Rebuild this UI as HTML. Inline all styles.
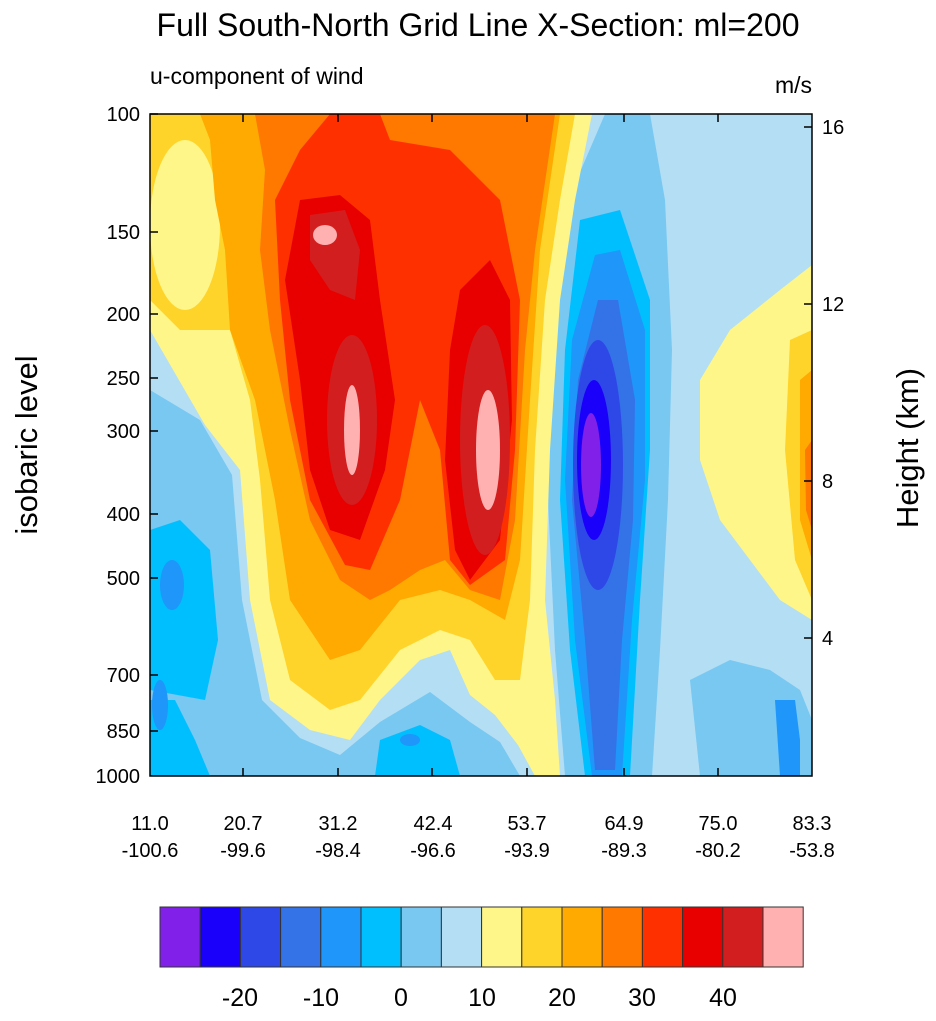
<!DOCTYPE html>
<html><head><style>
body{margin:0;background:#fff;}
svg text{font-family:"Liberation Sans",sans-serif;fill:#000;}
</style></head><body>
<svg width="936" height="1016" viewBox="0 0 936 1016" xmlns="http://www.w3.org/2000/svg">
<defs><clipPath id="c"><rect x="150" y="114" width="662" height="662"/></clipPath></defs>
<text x="478" y="36" font-size="32" text-anchor="middle">Full South-North Grid Line X-Section: ml=200</text>
<text x="150" y="84" font-size="23">u-component of wind</text>
<text x="812" y="93" font-size="23" text-anchor="end">m/s</text>
<g clip-path="url(#c)">
<rect x="150" y="114" width="662" height="662" fill="#b4def4"/>
<path d="M605,114 L650,114 L665,200 L672,350 L668,500 L660,650 L652,776 L565,776 L555,650 L548,500 L553,350 L568,200Z" fill="#78c8f2"/>
<path d="M690,680 L730,660 L770,670 L800,690 L812,720 L812,776 L700,776Z" fill="#78c8f2"/>
<path d="M775,700 L795,700 L800,740 L800,776 L780,776Z" fill="#1e96fa"/>
<path d="M150,114 L592,114 L575,200 L560,300 L550,450 L545,600 L555,700 L560,776 L535,776 L518,745 L495,715 L470,695 L450,650 L420,660 L380,700 L350,740 L310,730 L270,700 L250,600 L240,470 L205,425 L150,330Z" fill="#fff68a"/>
<path d="M700,380 L730,330 L780,290 L812,265 L812,620 L780,600 L750,560 L720,520 L700,460Z" fill="#fff68a"/>
<path d="M790,340 L812,330 L812,600 L795,560 L785,450Z" fill="#ffd42a"/>
<path d="M800,380 L812,370 L812,560 L800,520Z" fill="#ffaa00"/>
<path d="M805,450 L812,440 L812,530 L806,510Z" fill="#ff7800"/>
<path d="M150,114 L575,114 L560,200 L545,300 L535,450 L530,600 L520,680 L495,680 L470,640 L440,630 L400,650 L360,700 L330,710 L290,680 L270,600 L260,480 L250,400 L230,330 L180,330 L150,300Z" fill="#ffd42a"/>
<ellipse cx="185" cy="225" rx="35" ry="85" fill="#fff68a"/>
<path d="M200,114 L560,114 L540,250 L530,400 L520,560 L505,620 L470,600 L440,590 L400,600 L360,650 L330,660 L290,600 L275,500 L255,400 L230,330 L225,250 L215,200 L210,140Z" fill="#ffaa00"/>
<path d="M255,114 L555,114 L535,250 L525,350 L515,520 L500,600 L470,590 L445,560 L420,570 L390,590 L370,600 L340,580 L310,520 L290,430 L270,330 L260,250 L265,170Z" fill="#ff7800"/>
<path d="M330,114 L380,114 L390,140 L450,150 L500,200 L520,300 L515,450 L505,560 L470,585 L450,560 L440,450 L420,400 L400,500 L370,570 L345,565 L310,500 L290,400 L280,300 L275,200 L300,150Z" fill="#ff3000"/>
<path d="M300,200 L340,195 L370,220 L380,300 L395,400 L385,470 L360,540 L330,530 L310,470 L300,380 L285,280Z" fill="#e80000"/>
<path d="M460,290 L490,260 L510,300 L512,420 L500,540 L470,580 L455,550 L445,460 L450,350Z" fill="#e80000"/>
<path d="M310,215 L345,210 L360,250 L355,300 L330,290 L310,260Z" fill="#d21e1e"/>
<ellipse cx="352" cy="420" rx="25" ry="85" fill="#d21e1e"/>
<ellipse cx="485" cy="440" rx="25" ry="115" fill="#d21e1e"/>
<ellipse cx="325" cy="235" rx="12" ry="10" fill="#ffb0b0"/>
<ellipse cx="352" cy="430" rx="8" ry="45" fill="#ffb0b0"/>
<ellipse cx="488" cy="450" rx="12" ry="60" fill="#ffb0b0"/>
<path d="M150,390 L200,420 L232,475 L242,600 L262,700 L300,738 L340,755 L380,722 L430,692 L470,722 L500,742 L520,776 L150,776Z" fill="#78c8f2"/>
<path d="M150,530 L180,520 L210,550 L218,640 L205,700 L150,690Z" fill="#00bfff"/>
<path d="M150,700 L175,700 L195,740 L210,776 L150,776Z" fill="#00bfff"/>
<path d="M380,740 L420,725 L450,740 L460,776 L375,776Z" fill="#00bfff"/>
<ellipse cx="172" cy="585" rx="12" ry="25" fill="#1e96fa"/>
<ellipse cx="160" cy="705" rx="8" ry="25" fill="#1e96fa"/>
<ellipse cx="410" cy="740" rx="10" ry="6" fill="#1e96fa"/>
<path d="M580,220 L620,210 L650,300 L650,450 L640,600 L630,776 L585,776 L570,650 L560,500 L565,350Z" fill="#00bfff"/>
<path d="M595,255 L620,250 L645,330 L645,480 L632,620 L622,776 L592,776 L575,640 L565,480 L572,340Z" fill="#1e96fa"/>
<path d="M598,300 L618,300 L635,400 L633,520 L622,640 L615,770 L595,770 L585,640 L572,500 L578,380Z" fill="#3472e8"/>
<ellipse cx="598" cy="465" rx="25" ry="125" fill="#2e48e8"/>
<ellipse cx="594" cy="460" rx="17" ry="80" fill="#1a00fa"/>
<ellipse cx="591" cy="465" rx="10" ry="52" fill="#8020e8"/>
</g>
<rect x="150" y="114" width="662" height="662" fill="none" stroke="#000" stroke-width="1.5"/>
<g stroke="#000" stroke-width="1.5">
<path d="M150,114h8M150,232h8M150,314h8M150,378h8M150,431h8M150,514h8M150,578h8M150,675h8M150,731h8"/>
<path d="M812,127h-8M812,304h-8M812,481h-8M812,638h-8"/>
<path d="M243,776v-8M338,776v-8M432,776v-8M527,776v-8M624,776v-8M718,776v-8M243,114v8M338,114v8M432,114v8M527,114v8M624,114v8M718,114v8"/>
</g>
<g font-size="20" text-anchor="end">
<text x="140" y="121">100</text><text x="140" y="239">150</text><text x="140" y="321">200</text><text x="140" y="385">250</text><text x="140" y="438">300</text><text x="140" y="521">400</text><text x="140" y="585">500</text><text x="140" y="682">700</text><text x="140" y="738">850</text><text x="140" y="783">1000</text>
</g>
<g font-size="20">
<text x="822" y="134">16</text><text x="822" y="311">12</text><text x="822" y="488">8</text><text x="822" y="645">4</text>
</g>
<g font-size="20" text-anchor="middle">
<text x="150" y="830">11.0</text><text x="150" y="857">-100.6</text>
<text x="243" y="830">20.7</text><text x="243" y="857">-99.6</text>
<text x="338" y="830">31.2</text><text x="338" y="857">-98.4</text>
<text x="433" y="830">42.4</text><text x="433" y="857">-96.6</text>
<text x="527" y="830">53.7</text><text x="527" y="857">-93.9</text>
<text x="624" y="830">64.9</text><text x="624" y="857">-89.3</text>
<text x="718" y="830">75.0</text><text x="718" y="857">-80.2</text>
<text x="812" y="830">83.3</text><text x="812" y="857">-53.8</text>
</g>
<text transform="translate(37,445) rotate(-90)" font-size="31" text-anchor="middle">isobaric level</text>
<text transform="translate(918,448) rotate(-90)" font-size="31" text-anchor="middle">Height (km)</text>
<g stroke="#333" stroke-width="1">
<rect x="160" y="907" width="40.2" height="60" fill="#8020e8"/>
<rect x="200.2" y="907" width="40.2" height="60" fill="#1a00fa"/>
<rect x="240.4" y="907" width="40.2" height="60" fill="#2e48e8"/>
<rect x="280.6" y="907" width="40.2" height="60" fill="#3472e8"/>
<rect x="320.8" y="907" width="40.2" height="60" fill="#1e96fa"/>
<rect x="361" y="907" width="40.2" height="60" fill="#00bfff"/>
<rect x="401.2" y="907" width="40.2" height="60" fill="#78c8f2"/>
<rect x="441.4" y="907" width="40.2" height="60" fill="#b4def4"/>
<rect x="481.6" y="907" width="40.2" height="60" fill="#fff68a"/>
<rect x="521.8" y="907" width="40.2" height="60" fill="#ffd42a"/>
<rect x="562" y="907" width="40.2" height="60" fill="#ffaa00"/>
<rect x="602.2" y="907" width="40.2" height="60" fill="#ff7800"/>
<rect x="642.4" y="907" width="40.2" height="60" fill="#ff3000"/>
<rect x="682.6" y="907" width="40.2" height="60" fill="#e80000"/>
<rect x="722.8" y="907" width="40.2" height="60" fill="#d21e1e"/>
<rect x="763" y="907" width="40.2" height="60" fill="#ffb0b0"/>
</g>
<g font-size="25" text-anchor="middle">
<text x="240" y="1006">-20</text><text x="321" y="1006">-10</text><text x="401" y="1006">0</text><text x="482" y="1006">10</text><text x="562" y="1006">20</text><text x="642" y="1006">30</text><text x="723" y="1006">40</text>
</g>
</svg>
</body></html>
